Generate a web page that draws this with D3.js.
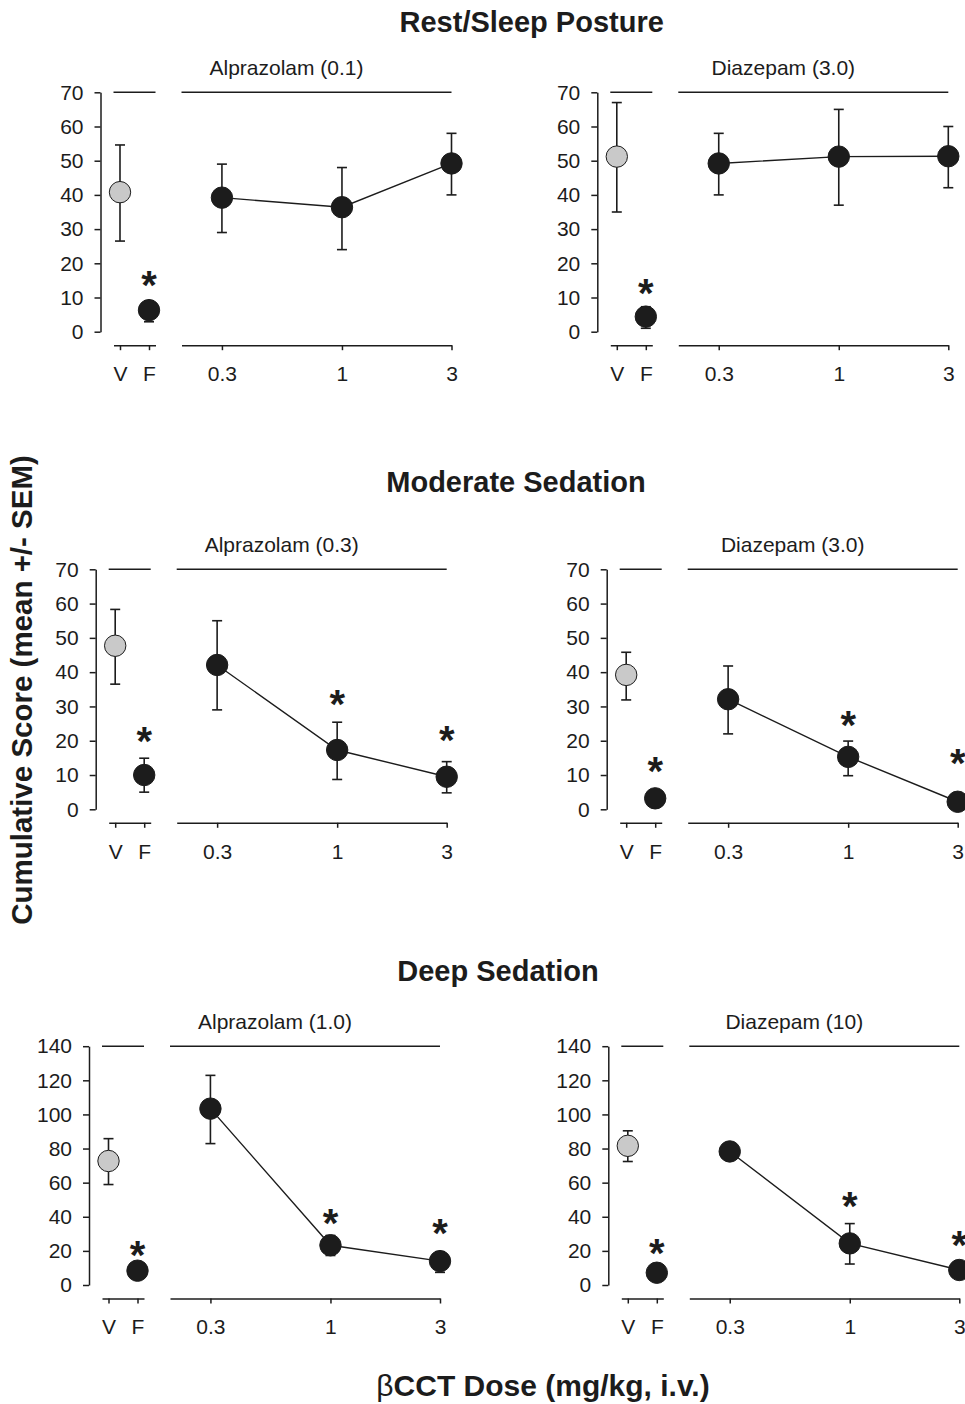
<!DOCTYPE html>
<html><head><meta charset="utf-8">
<script src="https://cdn.jsdelivr.net/npm/d3@7"></script>
<style>
body{margin:0;background:#fff}
svg{display:block}
text{font-family:"Liberation Sans",Arial,Helvetica,sans-serif}
</style>
</head><body>
<svg id="c" width="965" height="1404"></svg>
<script>
// ---------------- data ----------------
const sectionTitles = ["Rest/Sleep Posture", "Moderate Sedation", "Deep Sedation"];
const panelTitles = ["Alprazolam (0.1)", "Diazepam (3.0)", "Alprazolam (0.3)", "Diazepam (3.0)", "Alprazolam (1.0)", "Diazepam (10)"];
const controlLabels = ["V", "F"];
const doses = [0.3, 1, 3];
const doseLabels = ["0.3", "1", "3"];
const yMaxes = [70, 70, 70, 70, 140, 140];
const yTickSteps = [10, 10, 10, 10, 20, 20];

// V (vehicle) control
const vMean = [40.8, 51.2, 47.7, 39.2, 72.7, 81.6];
const vLo   = [26.5, 35.0, 36.5, 31.9, 58.9, 72.4];
const vHi   = [54.6, 67.0, 58.3, 45.8, 85.8, 90.4];
// F control
const fMean = [6.3, 4.4, 10.0, 3.2, 8.4, 7.2];
const fLo   = [2.9, 1.0, 5.0, 2.0, 6.0, 5.0];
const fHi   = [9.0, 7.3, 14.9, 4.5, 11.0, 9.5];
const fStar = [16.1, 13.6, 22.2, 13.4, 22.4, 23.4];
// betaCCT dose series
const doseMeans = [[39.2, 36.4, 49.2], [49.2, 51.2, 51.3], [42.1, 17.3, 9.5], [32.1, 15.3, 2.2], [103.4, 23.3, 14.0], [78.3, 24.4, 8.8]];
const doseLo    = [[29.0, 24.0, 40.0], [40.0, 37.0, 42.1], [29.0, 8.7, 4.8], [22.0, 9.8, 1.0], [82.9, 17.3, 7.4], [76.0, 12.3, 6.5]];
const doseHi    = [[49.0, 48.0, 58.0], [58.0, 65.0, 60.0], [55.0, 25.4, 13.9], [41.8, 19.9, 3.4], [122.9, 29.0, 19.5], [80.5, 36.0, 11.0]];
const doseStars = [[null, null, null], [null, null, null], [null, 33.1, 22.6], [null, 27.0, 15.8], [null, 40.9, 35.1], [null, 51.1, 28.3]];

// ---------------- layout ----------------
const ink = "#1c1c1c";
const svg = d3.select("#c");
const rowTop = [92.3, 569.3, 1046.2];
const rowBottom = [331.7, 809.3, 1285];
const axisXs = [100.5, 597.3, 95.7, 606.7, 89, 608.3];
const sectionPos = [[531.7, 32], [516, 492], [498, 981]];

sectionTitles.forEach((t, r) => {
  svg.append("text").attr("x", sectionPos[r][0]).attr("y", sectionPos[r][1])
    .attr("text-anchor", "middle").attr("font-size", 29).attr("font-weight", "bold")
    .attr("fill", ink).text(t);
});

function styleAxis(sel, fs) {
  sel.attr("font-family", null).attr("font-size", fs);
  sel.selectAll("path, line").attr("stroke", ink).attr("stroke-width", 1.5);
  sel.selectAll("text").attr("fill", ink);
}

for (let i = 0; i < 6; i++) {
  const row = Math.floor(i / 2);
  const ax = axisXs[i];
  const y = d3.scaleLinear().domain([0, yMaxes[i]]).range([rowBottom[row], rowTop[row]]);
  const xc = d3.scalePoint().domain(controlLabels).range([ax + 13, ax + 55]).padding(0.224);
  const xd = d3.scaleLog().domain([0.2, 3]).range([ax + 81, ax + 351]);
  const g = svg.append("g");
  const xaxisY = rowBottom[row] + 13.5;

  // y axis
  g.append("g").attr("transform", `translate(${ax},0)`)
    .call(d3.axisLeft(y).tickValues(d3.range(0, yMaxes[i] + 1, yTickSteps[i]))
      .tickSize(6).tickSizeOuter(0).tickPadding(11))
    .call(s => styleAxis(s, 21));

  // bottom axes
  g.append("g").attr("transform", `translate(0,${xaxisY})`)
    .call(d3.axisBottom(xc).tickSize(5).tickSizeOuter(0).tickPadding(16))
    .call(s => styleAxis(s, 21));
  g.append("g").attr("transform", `translate(0,${xaxisY})`)
    .call(d3.axisBottom(xd).tickValues(doses).tickFormat((d, j) => doseLabels[j])
      .tickSize(5).tickSizeOuter(0).tickPadding(16))
    .call(s => styleAxis(s, 21));

  // top bracket lines
  [xc.range(), xd.range()].forEach(rg => {
    g.append("line").attr("x1", rg[0]).attr("x2", rg[1])
      .attr("y1", y(yMaxes[i])).attr("y2", y(yMaxes[i]))
      .attr("stroke", ink).attr("stroke-width", 1.5);
  });

  // panel title
  g.append("text").attr("x", ax + 186).attr("y", y(yMaxes[i]) - 17)
    .attr("text-anchor", "middle").attr("font-size", 21).attr("fill", ink)
    .text(panelTitles[i]);

  const ctrl = [
    { x: xc("V"), m: vMean[i], lo: vLo[i], hi: vHi[i], fill: "#c9c9c9", star: null },
    { x: xc("F"), m: fMean[i], lo: fLo[i], hi: fHi[i], fill: ink, star: fStar[i] }
  ];
  const dp = doses.map((d, j) => ({ x: xd(d), m: doseMeans[i][j], lo: doseLo[i][j], hi: doseHi[i][j], fill: ink, star: doseStars[i][j] }));
  const all = ctrl.concat(dp);

  // error bars
  const eb = g.append("g").attr("stroke", ink).attr("stroke-width", 1.6);
  all.forEach(p => {
    eb.append("line").attr("x1", p.x).attr("x2", p.x).attr("y1", y(p.lo)).attr("y2", y(p.hi));
    [p.lo, p.hi].forEach(v => eb.append("line").attr("x1", p.x - 5).attr("x2", p.x + 5).attr("y1", y(v)).attr("y2", y(v)));
  });

  // connecting line
  g.append("path").datum(dp)
    .attr("d", d3.line().x(d => d.x).y(d => y(d.m)))
    .attr("fill", "none").attr("stroke", ink).attr("stroke-width", 1.4);

  // markers
  g.selectAll("circle.pt").data(all).join("circle")
    .attr("cx", d => d.x).attr("cy", d => y(d.m)).attr("r", 10.7)
    .attr("fill", d => d.fill).attr("stroke", ink).attr("stroke-width", 1);

  // significance stars
  all.filter(d => d.star != null).forEach(d => {
    g.append("text").attr("x", d.x).attr("y", y(d.star) + 22)
      .attr("text-anchor", "middle").attr("font-size", 40).attr("font-weight", "bold")
      .attr("fill", ink).text("*");
  });
}

// axis titles
svg.append("text").attr("transform", "translate(32,690) rotate(-90)")
  .attr("text-anchor", "middle").attr("font-size", 29.5).attr("font-weight", "bold")
  .attr("fill", ink).text("Cumulative Score (mean +/- SEM)");

const xt = svg.append("text").attr("x", 543).attr("y", 1396)
  .attr("text-anchor", "middle").attr("font-size", 30).attr("font-weight", "bold").attr("fill", ink);
xt.append("tspan").attr("font-weight", "normal").text("β");
xt.append("tspan").text("CCT Dose (mg/kg, i.v.)");
</script>
</body></html>
